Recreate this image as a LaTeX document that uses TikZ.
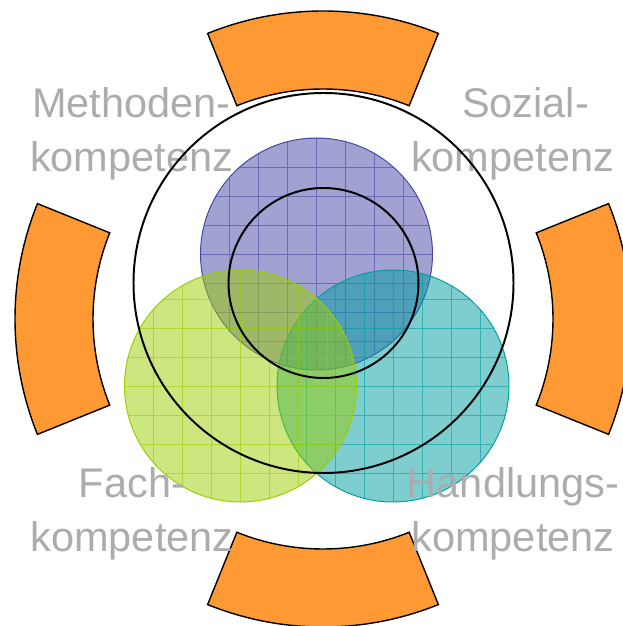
\documentclass[tikz,border=0pt]{standalone}
\usepackage{fontspec}
\setmainfont{Liberation Sans}
\definecolor{segorange}{RGB}{255,153,51}
\definecolor{cblue}{RGB}{70,70,165}
\definecolor{cgreen}{RGB}{155,205,0}
\definecolor{cteal}{RGB}{0,158,160}
\definecolor{lblgray}{RGB}{172,172,172}
\begin{document}
\begin{tikzpicture}[x=0.025cm,y=0.025cm]
		\tikzstyle{segment}=[draw=black,line width=1pt,fill=segorange]
		\tikzstyle{ring}=[draw=black,line width=1.4pt]
		\tikzstyle{lbl}=[anchor=base,align=center,inner sep=0pt,text=lblgray,font=\fontsize{29.5}{39}\selectfont]
		
		\useasboundingbox (0,0) rectangle (623,626);
		\coordinate (O) at (323,307);
		\coordinate (B) at (316.5,372);
		\coordinate (G) at (240.5,240);
		\coordinate (T) at (393,240);
		\coordinate (R) at (323.5,343);
		
		\foreach \a in {0,90,180,270}
			\draw[segment,shift={(O)}] (\a-22:230) arc[start angle=\a-22,end angle=\a+22,radius=230] -- (\a+22:308) arc[start angle=\a+22,end angle=\a-22,radius=308] -- cycle;
		
		\foreach \c/\col in {B/cblue,T/cteal,G/cgreen}{
			\fill[\col,fill opacity=0.5] (\c) circle[radius=116];
			\begin{scope}
				\clip (\c) circle[radius=116];
				\draw[\col,line width=0.5pt,opacity=0.6,shift={(\c)}] (-116,-116) grid[step=29] (116,116);
			\end{scope}
			\draw[\col,line width=0.7pt] (\c) circle[radius=116];
		}
		
		\node (meth) at (131.5,454) [lbl] {Methoden-\\kompetenz};
		\node (soz) at (512.5,454) [lbl] {\hspace*{0.65cm}Sozial-\\kompetenz};
		\node (fach) at (132,74) [lbl] {Fach-\\kompetenz};
		\node (hand) at (513,74) [lbl] {Handlungs-\\kompetenz};
		
		\draw[ring] (R) circle[radius=190];
		\draw[ring] (R) circle[radius=95];
		
\end{tikzpicture}
\end{document}
